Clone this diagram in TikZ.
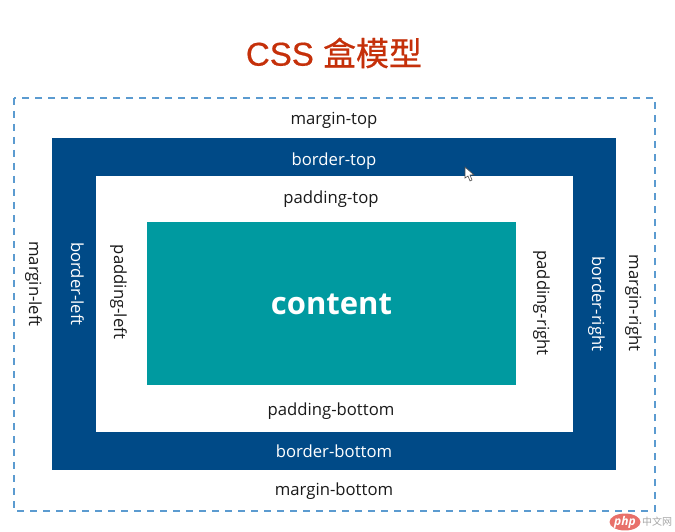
\documentclass[tikz,border=0pt]{standalone}
\usepackage{fontspec}
\usetikzlibrary{shapes.geometric}
\setmainfont{Open Sans}
\newfontfamily\titlefont[FakeBold=0.5]{Liberation Sans}
\newfontfamily\cjk{Noto Sans CJK SC}
\newfontfamily\cjktitle[FakeBold=0.5]{Noto Sans CJK SC}
\definecolor{titlered}{HTML}{C5300A}
\definecolor{borderblue}{HTML}{004A87}
\definecolor{contentteal}{HTML}{009AA0}
\definecolor{dashblue}{HTML}{5B9BD0}
\definecolor{labelblack}{HTML}{1A1A1A}
\definecolor{logored}{HTML}{E8706A}
\tikzset{
  darklabel/.style={text=labelblack, font=\fontsize{16.7}{18}\selectfont, inner sep=0pt},
  lightlabel/.style={text=white, font=\fontsize{16.7}{18}\selectfont, inner sep=0pt},
}
\begin{document}
\begin{tikzpicture}[x=1pt, y=-1pt]
    \useasboundingbox (0,0) rectangle (675,532);
    \fill[white] (0,0) rectangle (675,532);
    \node[text=titlered, inner sep=0pt, font=\fontsize{33}{36}\titlefont] (title) at (334,53) {CSS {\cjktitle 盒模型}};
    % boxes
    \draw[dashblue, line width=1.3pt, dash pattern=on 7pt off 6pt] (14,98) rectangle (655,511);
    \fill[borderblue] (52,138) rectangle (616,470);
    \fill[white] (96,176) rectangle (573,432);
    \fill[contentteal] (147,222) rectangle (516,385);
    \node[text=white, inner sep=0pt, font=\fontsize{31}{36}\selectfont\bfseries] (content) at (331.5,304) {content};
    % labels
    \node[darklabel] (margintop) at (334,120) {margin-top};
    \node[darklabel] (marginbottom) at (334,491) {margin-bottom};
    \node[darklabel, rotate=-90] (marginleft) at (33.5,284) {margin-left};
    \node[darklabel, rotate=-90] (marginright) at (633.5,303) {margin-right};
    \node[lightlabel] (bordertop) at (334,161) {border-top};
    \node[lightlabel] (borderbottom) at (334,451) {border-bottom};
    \node[lightlabel, rotate=-90] (borderleft) at (77.5,284) {border-left};
    \node[lightlabel, rotate=-90] (borderright) at (596.5,304) {border-right};
    \node[darklabel] (paddingtop) at (331,199) {padding-top};
    \node[darklabel] (paddingbottom) at (331,411) {padding-bottom};
    \node[darklabel, rotate=-90] (paddingleft) at (118.5,292) {padding-left};
    \node[darklabel, rotate=-90] (paddingright) at (541.5,303) {padding-right};
    % pointer
    \draw[fill=white, draw=black!70, line width=0.6pt] (465,167) -- (465,178) -- (468,176) -- (470,181) -- (472,180) -- (470,175) -- (474,175) -- cycle;
    % watermark
    \node[ellipse, fill=logored, text=white, inner sep=0pt, minimum width=31pt, minimum height=13pt, font=\fontsize{12}{12}\selectfont\itshape\bfseries] (logo) at (625,522) {php};
    \node[anchor=west, text=black!35, inner sep=0pt, font=\fontsize{10}{12}\cjk] (logotext) at (642,522) {中文网};
\end{tikzpicture}
\end{document}
